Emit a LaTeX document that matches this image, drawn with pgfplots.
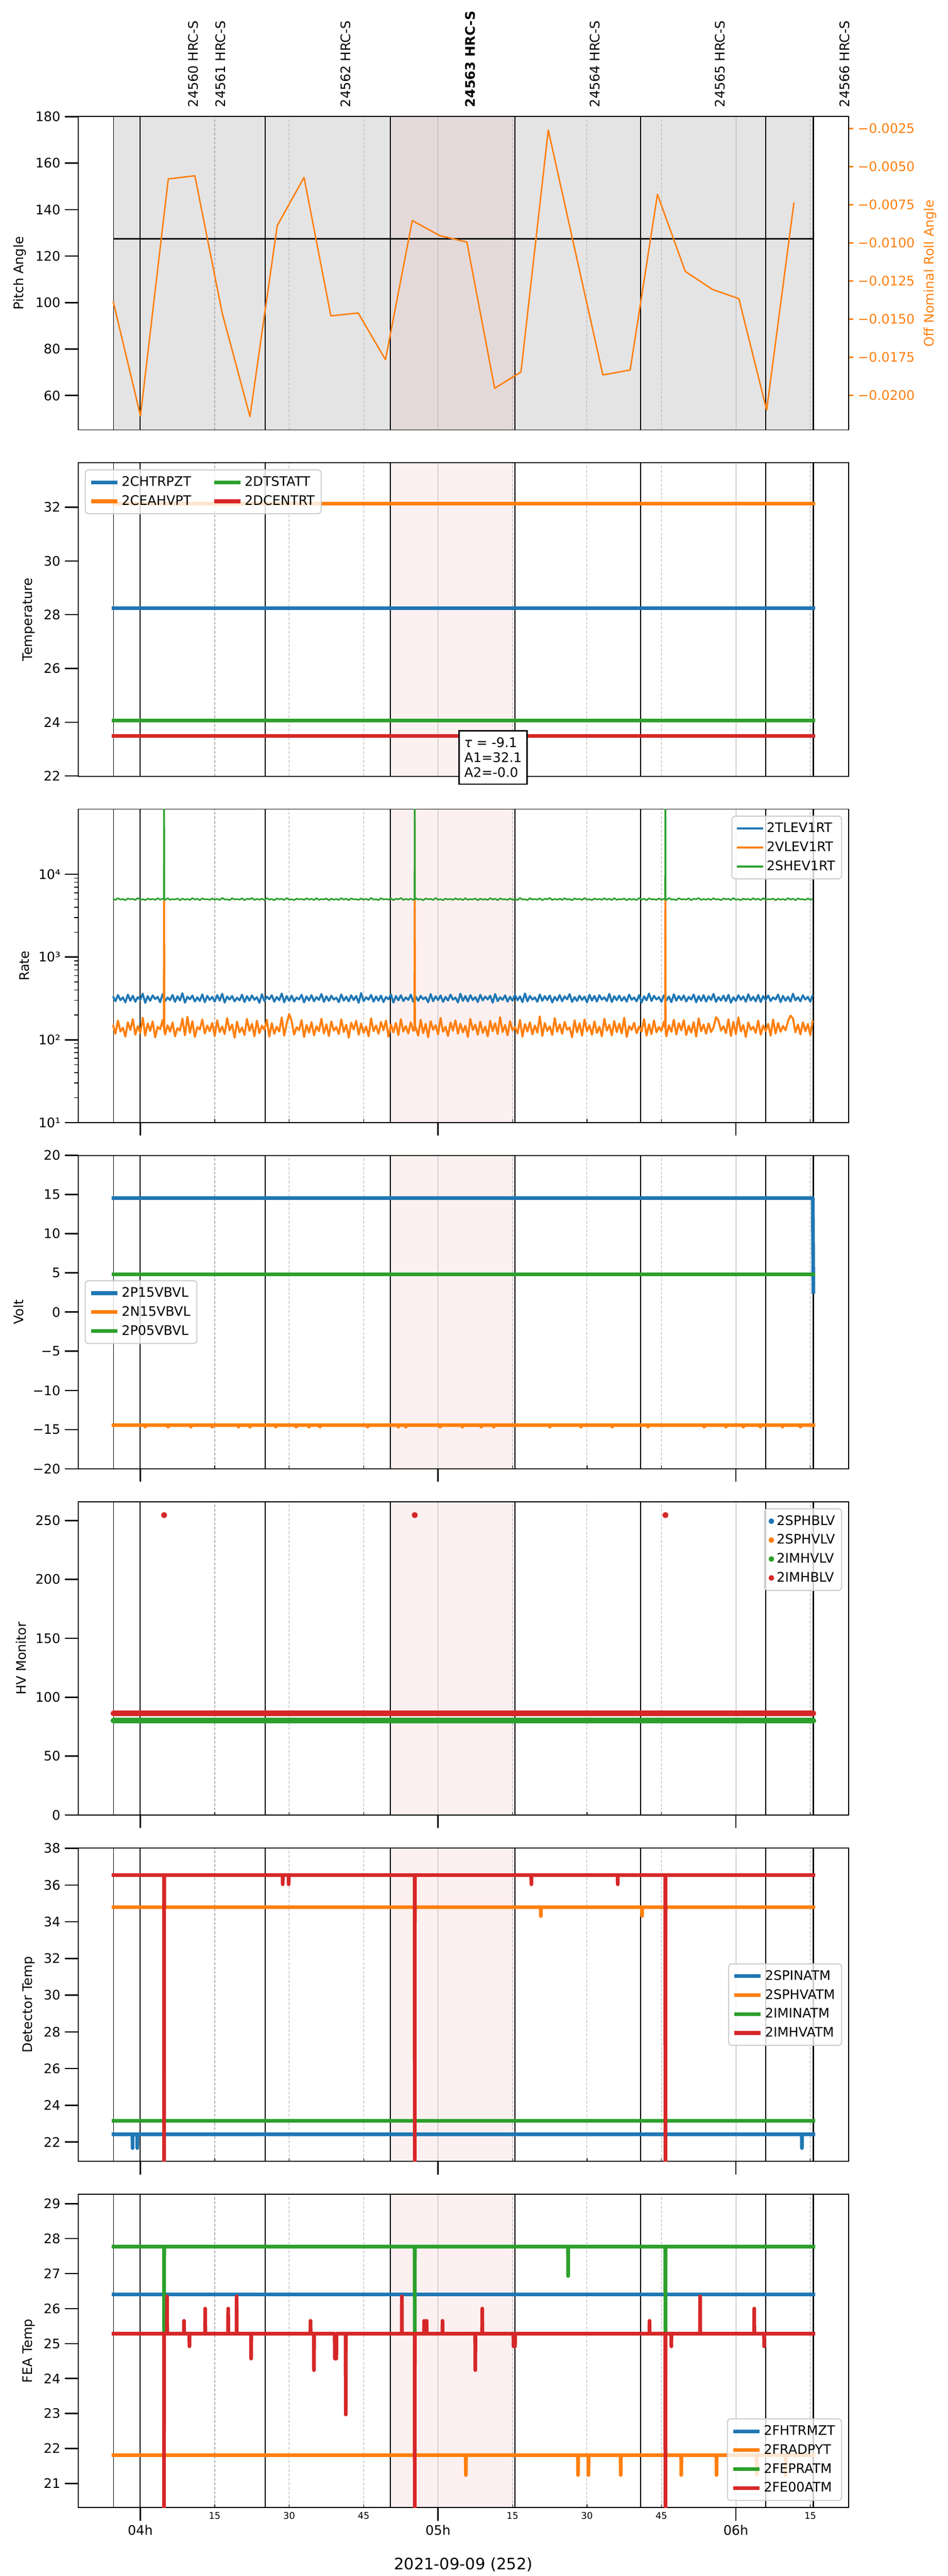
\documentclass[border=0pt]{standalone}
\usepackage{fontspec}
\setmainfont{DejaVu Sans}
\usepackage{pgfplots}
\pgfplotsset{compat=1.18}
\usepackage{pgfplotstable}

\definecolor{tabblue}{HTML}{1F77B4}
\definecolor{taborange}{HTML}{FF7F0E}
\definecolor{tabgreen}{HTML}{2CA02C}
\definecolor{tabred}{HTML}{D62728}
\definecolor{shadegray}{HTML}{E4E4E4}
\definecolor{shadepink}{HTML}{E4D9D9}
\definecolor{lightpink}{HTML}{FDF0F0}
\definecolor{gridgray}{HTML}{B0B0B0}
\definecolor{leggray}{HTML}{CCCCCC}

\pgfplotstableread{
x b o g
-5.5 335 152 5080
-5 292 118 4910
-4.5 348 171 5150
-4 301 126 4960
-3.5 326 140 5030
-3 283 109 4870
-2.5 352 163 5120
-2 297 131 4990
-1.5 341 178 5060
-1 288 115 4900
-0.5 329 147 5180
0 305 122 4940
0.5 362 185 5010
1 279 112 4880
1.5 338 158 5100
2 296 128 4970
2.5 345 167 5050
3 310 107 4920
3.5 331 144 5140
4 284 134 4950
4.5 357 174 5070
4.75 330 140 5010
4.8 318 5020 1000000
4.85 305 128 4960
5 293 116 4890
5.5 325 150 5160
6 302 125 4930
6.5 349 162 5020
7 287 110 4980
7.5 336 139 5110
8 299 129 4860
8.5 366 181 5090
9 281 113 4940
9.5 332 190 5040
10 308 121 4900
10.5 343 168 5170
11 290 108 4950
11.5 327 143 5080
12 295 133 4870
12.5 354 176 5130
13 285 119 4990
13.5 340 149 5010
14 303 127 4920
14.5 331 160 5120
15 289 111 4930
15.5 347 172 5060
16 298 124 4890
16.5 360 145 5190
17 282 117 4960
17.5 334 183 5000
18 306 130 4880
18.5 339 153 5150
19 291 106 4970
19.5 323 166 5030
20 300 123 4950
20.5 351 141 5140
21 286 114 4870
21.5 337 179 5070
22 297 128 4990
22.5 344 156 5180
23 304 110 4910
23.5 328 170 5050
24 280 120 4940
24.5 356 148 5080
25 294 132 4910
25.5 333 175 5150
26 309 109 4960
26.5 346 159 5030
27 288 118 4870
27.5 330 144 5120
28 301 126 4990
28.5 363 186 5060
29 284 112 4900
29.5 338 157 5180
30 296 205 4940
30.5 342 169 5010
31 290 115 4880
31.5 325 142 5100
32 307 131 4970
32.5 350 173 5050
33 283 108 4920
33.5 335 151 5140
34 299 122 4950
34.5 347 164 5070
35 292 113 4890
35.5 329 146 5160
36 303 127 4930
36.5 358 180 5020
37 287 119 4980
37.5 336 154 5110
38 295 111 4860
38.5 341 167 5090
39 306 129 4940
39.5 324 143 5040
40 285 117 4900
40.5 353 177 5170
41 298 124 4950
41.5 332 152 5080
42 291 106 4870
42.5 345 161 5130
43 302 133 4990
43.5 339 170 5010
44 280 115 4920
44.5 368 158 5120
45 293 121 4930
45.5 327 145 5060
46 305 110 4890
46.5 349 182 5190
47 289 127 4960
47.5 334 149 5000
48 297 118 4880
48.5 343 165 5150
49 286 130 4970
49.5 330 171 5030
50 308 109 4950
50.5 355 153 5140
51 282 123 4870
51.5 338 160 5070
52 300 114 4990
52.5 346 178 5180
53 294 126 4910
53.5 326 147 5050
54 303 119 4940
54.5 351 163 5080
55 288 128 4910
55.25 322 140 5000
55.3 315 5010 1000000
55.35 308 131 4980
55.5 333 142 5150
56 296 112 4960
56.5 340 175 5030
57 309 120 4870
57.5 328 156 5120
58 284 107 4990
58.5 357 168 5060
59 292 132 4900
59.5 336 150 5180
60 301 116 4940
60.5 344 184 5010
61 287 125 4880
61.5 331 144 5100
62 298 111 4970
62.5 352 162 5050
63 305 129 4920
63.5 325 172 5140
64 283 118 4950
64.5 361 157 5070
65 295 123 4890
65.5 339 148 5160
66 290 108 4930
66.5 347 179 5020
67 302 131 4980
67.5 329 153 5110
68 286 115 4860
68.5 350 166 5090
69 299 121 4940
69.5 334 145 5040
70 307 110 4900
70.5 342 170 5170
71 281 127 4950
71.5 358 159 5080
72 293 117 4870
72.5 327 188 5130
73 304 124 4990
73.5 345 151 5010
74 289 113 4920
74.5 332 168 5120
75 297 130 4930
75.5 349 143 5060
76 300 119 4890
76.5 336 174 5190
77 285 109 4960
77.5 364 155 5000
78 291 126 4880
78.5 340 163 5150
79 306 116 4970
79.5 326 149 5030
80 288 122 4950
80.5 353 192 5140
81 296 111 4870
81.5 338 160 5070
82 302 128 4990
82.5 344 146 5180
83 283 114 4910
83.5 331 183 5050
84 299 125 4940
84.5 348 154 5080
85 292 118 4910
85.5 335 165 5150
86 308 132 4960
86.5 357 141 5030
87 287 107 4870
87.5 329 172 5120
88 295 123 4990
88.5 342 158 5060
89 303 112 4900
89.5 333 176 5180
90 284 127 4940
90.5 350 150 5010
91 298 115 4880
91.5 339 167 5100
92 290 121 4970
92.5 346 144 5050
93 306 110 4920
93.5 327 180 5140
94 293 129 4950
94.5 359 152 5070
95 286 113 4890
95.5 337 169 5160
96 301 124 4930
96.5 343 157 5020
97 296 119 4980
97.5 330 185 5110
98 289 108 4860
98.5 352 147 5090
99 304 131 4940
99.5 325 161 5040
100 291 120 4900
100.5 347 145 5170
101 282 126 4950
101.5 336 178 5080
102 300 112 4870
102.5 362 154 5130
103 294 117 4990
103.5 341 171 5010
104 307 123 4920
104.5 328 143 5120
105 288 128 4930
105.5 345 166 5060
105.75 320 138 4990
105.8 312 5040 1000000
105.85 306 124 4960
106 299 110 4890
106.5 334 150 5190
107 285 125 4960
107.5 355 175 5000
108 297 116 4880
108.5 339 159 5150
109 302 130 4970
109.5 344 173 5030
110 290 114 4950
110.5 331 148 5140
111 306 122 4870
111.5 353 164 5070
112 284 109 4990
112.5 338 182 5180
113 296 127 4910
113.5 347 153 5050
114 289 118 4940
114.5 336 158 5080
115 303 124 4910
115.5 359 141 5150
116 287 188 4960
116.5 329 170 5030
117 298 129 4870
117.5 342 146 5120
118 293 120 4990
118.5 350 177 5060
119 281 111 4900
119.5 327 165 5180
120 295 117 4940
120.5 346 187 5010
121 304 126 4880
121.5 335 151 5100
122 288 108 4970
122.5 356 162 5050
123 299 132 4920
123.5 332 144 5140
124 291 121 4950
124.5 349 171 5070
125 286 115 4890
125.5 338 149 5160
126 302 128 4930
126.5 344 156 5020
127 294 112 4980
127.5 326 176 5110
128 307 119 4860
128.5 353 160 5090
129 285 125 4940
129.5 340 147 5040
130 297 130 4900
130.5 333 168 5170
131 289 196 4950
131.5 361 181 5080
132 300 123 4870
132.5 328 153 5130
133 292 116 4990
133.5 345 163 5010
134 306 127 4920
134.5 331 155 5120
135 288 114 4930
135.5 350 172 5060
}\ratetable

\newcommand{\pinkspan}[3]{\addplot[on layer=axis background, fill=#3, draw=none, forget plot] coordinates {(50.4,#1) (75.5,#1) (75.5,#2) (50.4,#2)} -- cycle;}
\newcommand{\obslines}[2]{%
  \addplot[black, line width=0.45pt, forget plot] coordinates {(-5.4,#1) (-5.4,#2)};
  \pgfplotsinvokeforeach{0,25.2,50.4,75.5,100.8,126.0,135.6}{%
    \addplot[black, line width=0.85pt, forget plot] coordinates {(##1,#1) (##1,#2)};}%
}

\pgfplotsset{
  panel/.style={
    scale only axis, width=587.56pt, height=238.85pt, anchor=north west,
    xmin=-12.51, xmax=142.72,
    set layers, clip mode=individual,
    axis line style={line width=0.75pt},
    tick align=outside, major tick length=10pt, minor tick length=3pt,
    tick style={black, line width=1pt},
    minor tick style={line width=0.6pt},
    xtick pos=left, ytick pos=left,
    xtick={0,60,120}, xticklabels={},
    xmajorgrids,
    major grid style={gridgray, line width=0.45pt},
    extra x ticks={15,30,45,75,90,105,135},
    extra x tick labels={},
    extra x tick style={grid=major, major grid style={gridgray, line width=0.45pt, dash pattern=on 2.2pt off 1.2pt}, tick align=inside, major tick length=2.5pt, tick style={line width=0.5pt}},
    tick label style={font=\fontsize{10}{12}\selectfont},
    label style={font=\fontsize{10}{12}\selectfont},
    /pgf/number format/assume math mode=true,
    scaled y ticks=false,
    legend cell align=left,
    legend style={font=\fontsize{10}{12}\selectfont, draw=leggray, line width=0.8pt, rounded corners=2.5pt, fill=white, fill opacity=0.8, draw opacity=1, text opacity=1, inner xsep=3pt, inner ysep=3pt, row sep=1.5pt},
    legend image code/.code={\draw[##1, line cap=butt] (0pt,0pt) -- (20pt,0pt);},
  },
  thick series/.style={line width=2.8pt, line cap=rect, line join=round},
}

\begin{document}
\begin{tikzpicture}

% ---------------- Panel 1: Pitch / Roll
\begin{axis}[panel, at={(59.62pt,1862.40pt)}, ymin=45.2, ymax=180, ytick={60,80,...,180},
  ylabel={Pitch Angle}, major x tick style={draw=none}]
\addplot[on layer=axis background, fill=shadegray, draw=none, forget plot] coordinates {(-5.4,40) (135.6,40) (135.6,185) (-5.4,185)} -- cycle;
\pinkspan{40}{185}{shadepink}
\obslines{40}{185}
\addplot[black, line width=1pt] coordinates {(-5.4,127.4) (135.8,127.4)};
\node[rotate=90, anchor=west, inner sep=0pt, font=\fontsize{10}{12}\selectfont] at (axis cs:10.7,183.9) {24560 HRC-S};
\node[rotate=90, anchor=west, inner sep=0pt, font=\fontsize{10}{12}\selectfont] at (axis cs:16.2,183.9) {24561 HRC-S};
\node[rotate=90, anchor=west, inner sep=0pt, font=\fontsize{10}{12}\selectfont] at (axis cs:41.4,183.9) {24562 HRC-S};
\node[rotate=90, anchor=west, inner sep=0pt, font=\fontsize{10}{12}\selectfont\bfseries] at (axis cs:66.5,183.9) {24563 HRC-S};
\node[rotate=90, anchor=west, inner sep=0pt, font=\fontsize{10}{12}\selectfont] at (axis cs:91.6,183.9) {24564 HRC-S};
\node[rotate=90, anchor=west, inner sep=0pt, font=\fontsize{10}{12}\selectfont] at (axis cs:116.8,183.9) {24565 HRC-S};
\node[rotate=90, anchor=west, inner sep=0pt, font=\fontsize{10}{12}\selectfont] at (axis cs:141.9,183.9) {24566 HRC-S};
\end{axis}
\begin{axis}[scale only axis, width=587.56pt, height=238.85pt, anchor=north west, at={(59.62pt,1862.40pt)},
  xmin=-12.51, xmax=142.72, ymin=-0.02226, ymax=-0.00171,
  axis x line=none, axis y line*=right, y axis line style={line width=0.75pt, -},
  clip mode=individual, scaled y ticks=false,
  tick align=outside, major tick length=3.5pt, tick style={taborange, line width=1pt},
  ytick={-0.0025,-0.005,-0.0075,-0.01,-0.0125,-0.015,-0.0175,-0.02},
  yticklabels={−0.0025,−0.0050,−0.0075,−0.0100,−0.0125,−0.0150,−0.0175,−0.0200},
  yticklabel style={taborange, font=\fontsize{10}{12}\selectfont},
  ylabel={Off Nominal Roll Angle}, ylabel near ticks,
  ylabel style={taborange, font=\fontsize{10}{12}\selectfont}]
\addplot[taborange, line width=1.1pt, line join=round] coordinates {
(-5.45,-0.01384) (0.04,-0.02134) (5.64,-0.00580) (11.0,-0.00559) (16.5,-0.01459)
(22.1,-0.02138) (27.6,-0.00885) (33.0,-0.00570) (38.4,-0.01478) (43.9,-0.01459)
(49.4,-0.01765) (54.8,-0.00853) (60.3,-0.00951) (65.8,-0.00994) (71.4,-0.01953)
(76.7,-0.01846) (82.2,-0.00259) (87.7,-0.01064) (93.2,-0.01865) (98.7,-0.01833)
(104.2,-0.00681) (109.8,-0.01186) (115.3,-0.01305) (120.6,-0.01365) (126.2,-0.02096)
(131.7,-0.00734)};
\end{axis}

% ---------------- Panel 2: Temperature
\begin{axis}[panel, at={(59.62pt,1598.47pt)}, ymin=21.99, ymax=33.65, ytick={22,24,...,32},
  ylabel={Temperature}, major x tick style={draw=none},
  legend columns=2,
  legend style={at={(0,1)}, anchor=north west, xshift=5pt, yshift=-5pt, /tikz/every even column/.append style={column sep=14pt}}]
\pinkspan{21}{35}{lightpink}
\obslines{21}{35}
\addplot[tabblue, thick series] coordinates {(-5.4,28.25) (135.6,28.25)}; \addlegendentry{2CHTRPZT}
\addplot[tabgreen, thick series] coordinates {(-5.4,24.06) (135.6,24.06)}; \addlegendentry{2DTSTATT}
\addplot[taborange, thick series] coordinates {(-5.4,32.14) (135.6,32.14)}; \addlegendentry{2CEAHVPT}
\addplot[tabred, thick series] coordinates {(-5.4,23.49) (135.6,23.49)}; \addlegendentry{2DCENTRT}
\node[draw=black, line width=1pt, fill=white, align=left, anchor=north west, inner xsep=4pt, inner ysep=5pt,
  font=\fontsize{10}{11.5}\selectfont] at (axis cs:64.1,23.70) {\textit{τ} = -9.1\\A1=32.1\\A2=-0.0};
\end{axis}

% ---------------- Panel 3: Rate
\begin{axis}[panel, at={(59.62pt,1334.54pt)}, ymode=log, ymin=10, ymax=61500,
  ytick={10,100,1000,10000}, yticklabels={10¹,10²,10³,10⁴}, ylabel={Rate},
  legend style={at={(1,1)}, anchor=north east, xshift=-5pt, yshift=-5pt},
  legend image code/.code={\draw[#1, line width=1.5pt] (0pt,0pt) -- (20pt,0pt);}]
\pinkspan{5}{100000}{lightpink}
\obslines{5}{100000}
\addplot[tabblue, line width=1.5pt, line join=round] table[x=x, y=b] {\ratetable}; \addlegendentry{2TLEV1RT}
\addplot[taborange, line width=1.5pt, line join=round] table[x=x, y=o] {\ratetable}; \addlegendentry{2VLEV1RT}
\addplot[tabgreen, line width=1.2pt, line join=round] table[x=x, y=g] {\ratetable}; \addlegendentry{2SHEV1RT}
\end{axis}

% ---------------- Panel 4: Volt
\begin{axis}[panel, at={(59.62pt,1070.61pt)}, ymin=-20, ymax=20, ytick={-20,-15,...,20},
  yticklabels={−20,−15,−10,−5,0,5,10,15,20}, ylabel={Volt},
  legend style={at={(0,0.5)}, anchor=west, xshift=5pt}]
\pinkspan{-21}{21}{lightpink}
\obslines{-21}{21}
\addplot[tabblue, thick series] coordinates {(-5.4,14.55) (135.5,14.55) (135.6,2.6)}; \addlegendentry{2P15VBVL}
\addplot[taborange, thick series] coordinates {(-5.4,-14.43)
(0.95,-14.43) (1,-14.62) (1.05,-14.43) (5.55,-14.43) (5.6,-14.62) (5.65,-14.43)
(10.15,-14.43) (10.2,-14.62) (10.25,-14.43) (14.45,-14.43) (14.5,-14.62) (14.55,-14.43)
(19.75,-14.43) (19.8,-14.62) (19.85,-14.43) (22.05,-14.43) (22.1,-14.62) (22.15,-14.43)
(27.25,-14.43) (27.3,-14.62) (27.35,-14.43) (31.35,-14.43) (31.4,-14.62) (31.45,-14.43)
(33.95,-14.43) (34,-14.62) (34.05,-14.43) (36.15,-14.43) (36.2,-14.62) (36.25,-14.43)
(45.75,-14.43) (45.8,-14.62) (45.85,-14.43) (51.95,-14.43) (52,-14.62) (52.05,-14.43)
(53.45,-14.43) (53.5,-14.62) (53.55,-14.43) (60.35,-14.43) (60.4,-14.62) (60.45,-14.43)
(64.85,-14.43) (64.9,-14.62) (64.95,-14.43) (68.65,-14.43) (68.7,-14.62) (68.75,-14.43)
(71.15,-14.43) (71.2,-14.62) (71.25,-14.43) (82.45,-14.43) (82.5,-14.62) (82.55,-14.43)
(88.75,-14.43) (88.8,-14.62) (88.85,-14.43) (95.05,-14.43) (95.1,-14.62) (95.15,-14.43)
(102.25,-14.43) (102.3,-14.62) (102.35,-14.43) (113.55,-14.43) (113.6,-14.62) (113.65,-14.43)
(117.95,-14.43) (118,-14.62) (118.05,-14.43) (121.45,-14.43) (121.5,-14.62) (121.55,-14.43)
(124.85,-14.43) (124.9,-14.62) (124.95,-14.43) (129.35,-14.43) (129.4,-14.62) (129.45,-14.43)
(132.95,-14.43) (133,-14.62) (133.05,-14.43) (135.6,-14.43)}; \addlegendentry{2N15VBVL}
\addplot[tabgreen, thick series] coordinates {(-5.4,4.84) (135.6,4.84)}; \addlegendentry{2P05VBVL}
\end{axis}

% ---------------- Panel 5: HV Monitor
\begin{axis}[panel, at={(59.62pt,806.67pt)}, ymin=0, ymax=266, ytick={0,50,...,250}, ylabel={HV Monitor},
  legend style={at={(1,1)}, anchor=north east, xshift=-5pt, yshift=-5pt},
  legend image code/.code={\fill[#1, fill opacity=1] (10pt,0pt) circle (1.7pt);}]
\pinkspan{-5}{270}{lightpink}
\obslines{-5}{270}
\addlegendimage{tabblue} \addlegendentry{2SPHBLV}
\addlegendimage{taborange} \addlegendentry{2SPHVLV}
\addlegendimage{tabgreen} \addlegendentry{2IMHVLV}
\addlegendimage{tabred} \addlegendentry{2IMHBLV}
\addplot[tabgreen, line width=4.3pt, line cap=round, forget plot] coordinates {(-5.4,80.1) (135.6,80.1)};
\addplot[tabred, line width=4.3pt, line cap=round, forget plot] coordinates {(-5.4,86.3) (135.6,86.3)};
\addplot[only marks, mark=*, mark size=2.1pt, tabred, forget plot] coordinates {(4.8,254.6) (55.3,254.6) (105.8,254.6)};
\end{axis}

% ---------------- Panel 6: Detector Temp
\begin{axis}[panel, at={(59.62pt,542.75pt)}, ymin=20.95, ymax=38.02, ytick={22,24,...,38}, ylabel={Detector Temp},
  legend style={at={(1,0.5)}, anchor=east, xshift=-5pt}]
\pinkspan{20}{39}{lightpink}
\obslines{20}{39}
\addplot[tabblue, thick series] coordinates {(-5.4,22.42) (-1.58,22.42) (-1.55,21.67) (-1.52,22.42) (-0.63,22.42) (-0.6,21.67) (-0.57,22.42) (133.27,22.42) (133.3,21.67) (133.33,22.42) (135.6,22.42)}; \addlegendentry{2SPINATM}
\addplot[taborange, thick series] coordinates {(-5.4,34.79) (80.67,34.79) (80.7,34.31) (80.73,34.79) (101.07,34.79) (101.1,34.31) (101.13,34.79) (135.6,34.79)}; \addlegendentry{2SPHVATM}
\addplot[tabgreen, thick series] coordinates {(-5.4,23.15) (135.6,23.15)}; \addlegendentry{2IMINATM}
\addplot[tabred, thick series] coordinates {(-5.4,36.54) (4.77,36.54) (4.8,19) (4.83,36.54)
(28.67,36.54) (28.7,36.04) (28.73,36.54) (29.87,36.54) (29.9,36.04) (29.93,36.54)
(55.27,36.54) (55.3,19) (55.33,36.54) (78.77,36.54) (78.8,36.04) (78.83,36.54)
(96.17,36.54) (96.2,36.04) (96.23,36.54) (105.77,36.54) (105.8,19) (105.83,36.54) (135.6,36.54)}; \addlegendentry{2IMHVATM}
\end{axis}

% ---------------- Panel 7: FEA Temp
\begin{axis}[panel, at={(59.62pt,278.82pt)}, ymin=20.31, ymax=29.27, ytick={21,22,...,29}, ylabel={FEA Temp},
  xticklabels={04h,05h,06h},
  extra x tick labels={15,30,45,15,30,45,15},
  extra x tick style={tick label style={font=\fontsize{7}{8}\selectfont}},
  xlabel={2021-09-09 (252)}, xlabel style={font=\fontsize{12}{14}\selectfont},
  legend style={at={(1,0)}, anchor=south east, xshift=-5pt, yshift=5pt}]
\pinkspan{20}{30}{lightpink}
\obslines{20}{30}
\addplot[tabblue, thick series] coordinates {(-5.4,26.40) (135.6,26.40)}; \addlegendentry{2FHTRMZT}
\addplot[taborange, thick series] coordinates {(-5.4,21.81) (65.57,21.81) (65.6,21.24) (65.63,21.81)
(88.17,21.81) (88.2,21.24) (88.23,21.81) (90.27,21.81) (90.3,21.24) (90.33,21.81)
(96.77,21.81) (96.8,21.24) (96.83,21.81) (108.97,21.81) (109,21.24) (109.03,21.81)
(116.07,21.81) (116.1,21.24) (116.13,21.81) (124.17,21.81) (124.2,21.24) (124.23,21.81)
(129.97,21.81) (130,21.24) (130.03,21.81) (135.6,21.81)}; \addlegendentry{2FRADPYT}
\addplot[tabgreen, thick series] coordinates {(-5.4,27.77) (4.77,27.77) (4.8,25.33) (4.83,27.77)
(55.27,27.77) (55.3,25.33) (55.33,27.77) (86.17,27.77) (86.2,26.93) (86.23,27.77)
(105.77,27.77) (105.8,25.33) (105.83,27.77) (135.6,27.77)}; \addlegendentry{2FEPRATM}
\addplot[tabred, thick series] coordinates {(-5.4,25.28) (4.77,25.28) (4.79,19) (4.81,25.28)
(5.37,25.28) (5.4,26.35) (5.43,25.28) (8.78,25.28) (8.81,25.65) (8.84,25.28)
(9.88,25.28) (9.91,24.92) (9.94,25.28) (13.05,25.28) (13.08,26.0) (13.11,25.28)
(17.68,25.28) (17.71,26.0) (17.74,25.28) (19.39,25.28) (19.42,26.35) (19.45,25.28)
(22.31,25.28) (22.34,24.57) (22.37,25.28) (34.27,25.28) (34.3,25.65) (34.33,25.28)
(34.97,25.28) (35.0,24.24) (35.03,25.28) (39.17,25.28) (39.2,24.57) (39.5,24.57) (39.53,25.28)
(41.37,25.28) (41.4,22.97) (41.43,25.28) (52.67,25.28) (52.7,26.35) (52.73,25.28)
(55.27,25.28) (55.3,19) (55.33,25.28) (57.17,25.28) (57.2,25.65) (57.23,25.28)
(57.67,25.28) (57.7,25.65) (57.73,25.28) (60.87,25.28) (60.9,25.65) (60.93,25.28)
(67.47,25.28) (67.5,24.24) (67.53,25.28) (68.87,25.28) (68.9,26.0) (68.93,25.28)
(75.17,25.28) (75.2,24.92) (75.5,24.92) (75.53,25.28) (102.57,25.28) (102.6,25.65) (102.63,25.28)
(105.77,25.28) (105.8,19) (105.83,25.28) (106.97,25.28) (107.0,24.92) (107.03,25.28)
(112.77,25.28) (112.8,26.35) (112.83,25.28) (123.67,25.28) (123.7,26.0) (123.73,25.28)
(125.67,25.28) (125.7,24.92) (125.73,25.28) (135.6,25.28)}; \addlegendentry{2FE00ATM}
\end{axis}
\path (0,0) rectangle (722.7pt,1951.29pt);
\end{tikzpicture}
\end{document}
